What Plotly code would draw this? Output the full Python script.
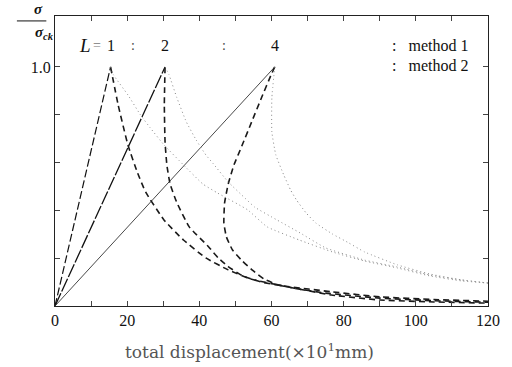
import plotly.graph_objects as go

# ---------------- data ----------------
L_labels = ["1", "2", "4"]
peak_x = [15.4, 30.5, 60.9]
peak_y = [1.0, 1.0, 1.0]

# method 1 (dashed) unloading
m1_L1_x = [15.4, 17.5, 20.2, 22.9, 25.1, 30.2, 35.6, 41.8, 48.0, 54.2, 63.1, 76.6, 90.1, 105.0, 120.0]
m1_L1_y = [1.0, 0.841, 0.674, 0.556, 0.477, 0.360, 0.276, 0.201, 0.151, 0.113, 0.084, 0.046, 0.025, 0.017, 0.012]
m1_L2_x = [30.5, 30.3, 30.5, 31.0, 31.9, 33.7, 37.2, 42.6, 45.3, 48.0, 51.8, 57.2, 63.4, 76.9, 90.3, 105.0, 120.0]
m1_L2_y = [1.0, 0.841, 0.686, 0.590, 0.510, 0.435, 0.331, 0.247, 0.200, 0.165, 0.128, 0.100, 0.084, 0.059, 0.038, 0.027, 0.020]
m1_L4_x = [60.9, 59.9, 57.2, 54.5, 51.8, 49.6, 48.0, 47.0, 46.8, 47.5, 49.2, 51.8, 54.7, 58.0, 61.5, 66.1, 75.0, 90.1, 105.0, 120.0]
m1_L4_y = [1.0, 0.967, 0.870, 0.770, 0.670, 0.590, 0.510, 0.431, 0.347, 0.289, 0.234, 0.190, 0.150, 0.112, 0.090, 0.075, 0.054, 0.033, 0.022, 0.016]

# method 2 (dotted) unloading
m2_L1_x = [15.4, 16.2, 20.2, 23.7, 26.4, 30.2, 35.6, 41.0, 45.0, 53.4, 58.8, 67.7, 76.9, 85.8, 94.9, 103.8, 112.7, 120.0]
m2_L1_y = [1.0, 0.967, 0.883, 0.799, 0.745, 0.674, 0.590, 0.510, 0.473, 0.402, 0.331, 0.276, 0.226, 0.188, 0.159, 0.126, 0.105, 0.096]
m2_L2_x = [30.5, 31.6, 33.7, 36.4, 39.1, 41.8, 43.7, 48.0, 52.6, 55.3, 61.5, 68.0, 75.0, 85.8, 94.9, 103.8, 112.7, 120.0]
m2_L2_y = [1.0, 0.967, 0.874, 0.770, 0.695, 0.632, 0.598, 0.519, 0.452, 0.414, 0.360, 0.305, 0.243, 0.192, 0.163, 0.130, 0.109, 0.096]
m2_L4_x = [60.9, 60.1, 60.1, 61.2, 63.4, 65.3, 66.9, 69.6, 72.3, 76.9, 81.4, 85.8, 94.9, 103.8, 112.7, 120.0]
m2_L4_y = [1.0, 0.870, 0.728, 0.632, 0.548, 0.485, 0.444, 0.389, 0.347, 0.301, 0.264, 0.226, 0.172, 0.134, 0.109, 0.096]

x_tickvals = [0, 10, 20, 30, 40, 50, 60, 70, 80, 90, 100, 110, 120]
x_ticktext = ["0", " ", "20", " ", "40", " ", "60", " ", "80", " ", "100", " ", "120"]
y_tickvals = [0.2, 0.4, 0.6, 0.8, 1.0]
y_ticktext = [" ", " ", " ", " ", "1.0"]

legend_texts = [":   method 1", ":   method 2"]
x_title = "total displacement(×10<sup>1</sup>mm)"

# ---------------- figure ----------------
SERIF = "Liberation Serif"
fig = go.Figure()

# loading lines
load_styles = [
    dict(color="#111", width=1.2, dash="8px,3px"),
    dict(color="#111", width=1.3, dash="14px,2px"),
    dict(color="#333", width=0.9, dash="solid"),
]
for px_, py_, st in zip(peak_x, peak_y, load_styles):
    fig.add_trace(go.Scatter(x=[0, px_], y=[0, py_], mode="lines", line=st,
                             showlegend=False, hoverinfo="skip"))

for xs, ys in [(m1_L1_x, m1_L1_y), (m1_L2_x, m1_L2_y), (m1_L4_x, m1_L4_y)]:
    fig.add_trace(go.Scatter(x=xs, y=ys, mode="lines",
                             line=dict(color="#1a1a1a", width=1.6, dash="6px,4px", shape="spline", smoothing=0.4),
                             showlegend=False, hoverinfo="skip"))
for xs, ys in [(m2_L1_x, m2_L1_y), (m2_L2_x, m2_L2_y), (m2_L4_x, m2_L4_y)]:
    fig.add_trace(go.Scatter(x=xs, y=ys, mode="lines",
                             line=dict(color="#8a8a8a", width=1.0, dash="1px,3px", shape="spline", smoothing=0.4),
                             showlegend=False, hoverinfo="skip"))

ann = []
# L = 1 : 2 : 4
ann.append(dict(x=8.4, y=1.09, text="<i>L</i>", showarrow=False, font=dict(family=SERIF, size=19, color="#111")))
ann.append(dict(x=11.6, y=1.09, text="=", showarrow=False, font=dict(family=SERIF, size=14, color="#777")))
for lx, lt in zip(peak_x, L_labels):
    ann.append(dict(x=lx, y=1.09, text=lt, showarrow=False, font=dict(family=SERIF, size=16, color="#111")))
for cx in [21.6, 46.7]:
    ann.append(dict(x=cx, y=1.09, text=":", showarrow=False, font=dict(family=SERIF, size=14, color="#444")))
# legend texts
for i, t in enumerate(legend_texts):
    ann.append(dict(x=92.8, y=1.09 - 0.084 * i, text=t, showarrow=False, xanchor="left",
                    font=dict(family=SERIF, size=16, color="#111")))
# y label fraction
ann.append(dict(x=-0.054, y=0.99, xref="paper", yref="paper", yanchor="bottom", text="<b><i>σ</i></b>",
                showarrow=False, font=dict(family=SERIF, size=15, color="#111")))
ann.append(dict(x=-0.05, y=0.978, xref="paper", yref="paper", yanchor="top", text="<b><i>σ<sub>ck</sub></i></b>",
                showarrow=False, font=dict(family=SERIF, size=15, color="#111")))
# x title
ann.append(dict(x=0.45, y=-0.2, xref="paper", yref="paper", text=x_title, showarrow=False,
                font=dict(family="DejaVu Serif", size=17, color="#555")))

fig.update_layout(
    width=512, height=367,
    margin=dict(l=55, r=12, t=16, b=61),
    paper_bgcolor="white", plot_bgcolor="white",
    annotations=ann,
    shapes=[dict(type="line", xref="paper", yref="paper", x0=-0.088, x1=-0.02, y0=0.983, y1=0.983,
                 line=dict(color="#111", width=1))],
    font=dict(family=SERIF, size=16, color="#111"),
)
fig.update_xaxes(range=[0, 120], tickvals=x_tickvals, ticktext=x_ticktext, ticks="inside", ticklen=5,
                 showline=True, linecolor="#222", linewidth=1, mirror="ticks", showgrid=False, zeroline=False,
                 tickfont=dict(family=SERIF, size=16))
fig.update_yaxes(range=[0, 1.213], tickvals=y_tickvals, ticktext=y_ticktext, ticks="inside", ticklen=5,
                 showline=True, linecolor="#222", linewidth=1, mirror="ticks", showgrid=False, zeroline=False,
                 tickfont=dict(family=SERIF, size=16))

fig.write_html("out.html")
